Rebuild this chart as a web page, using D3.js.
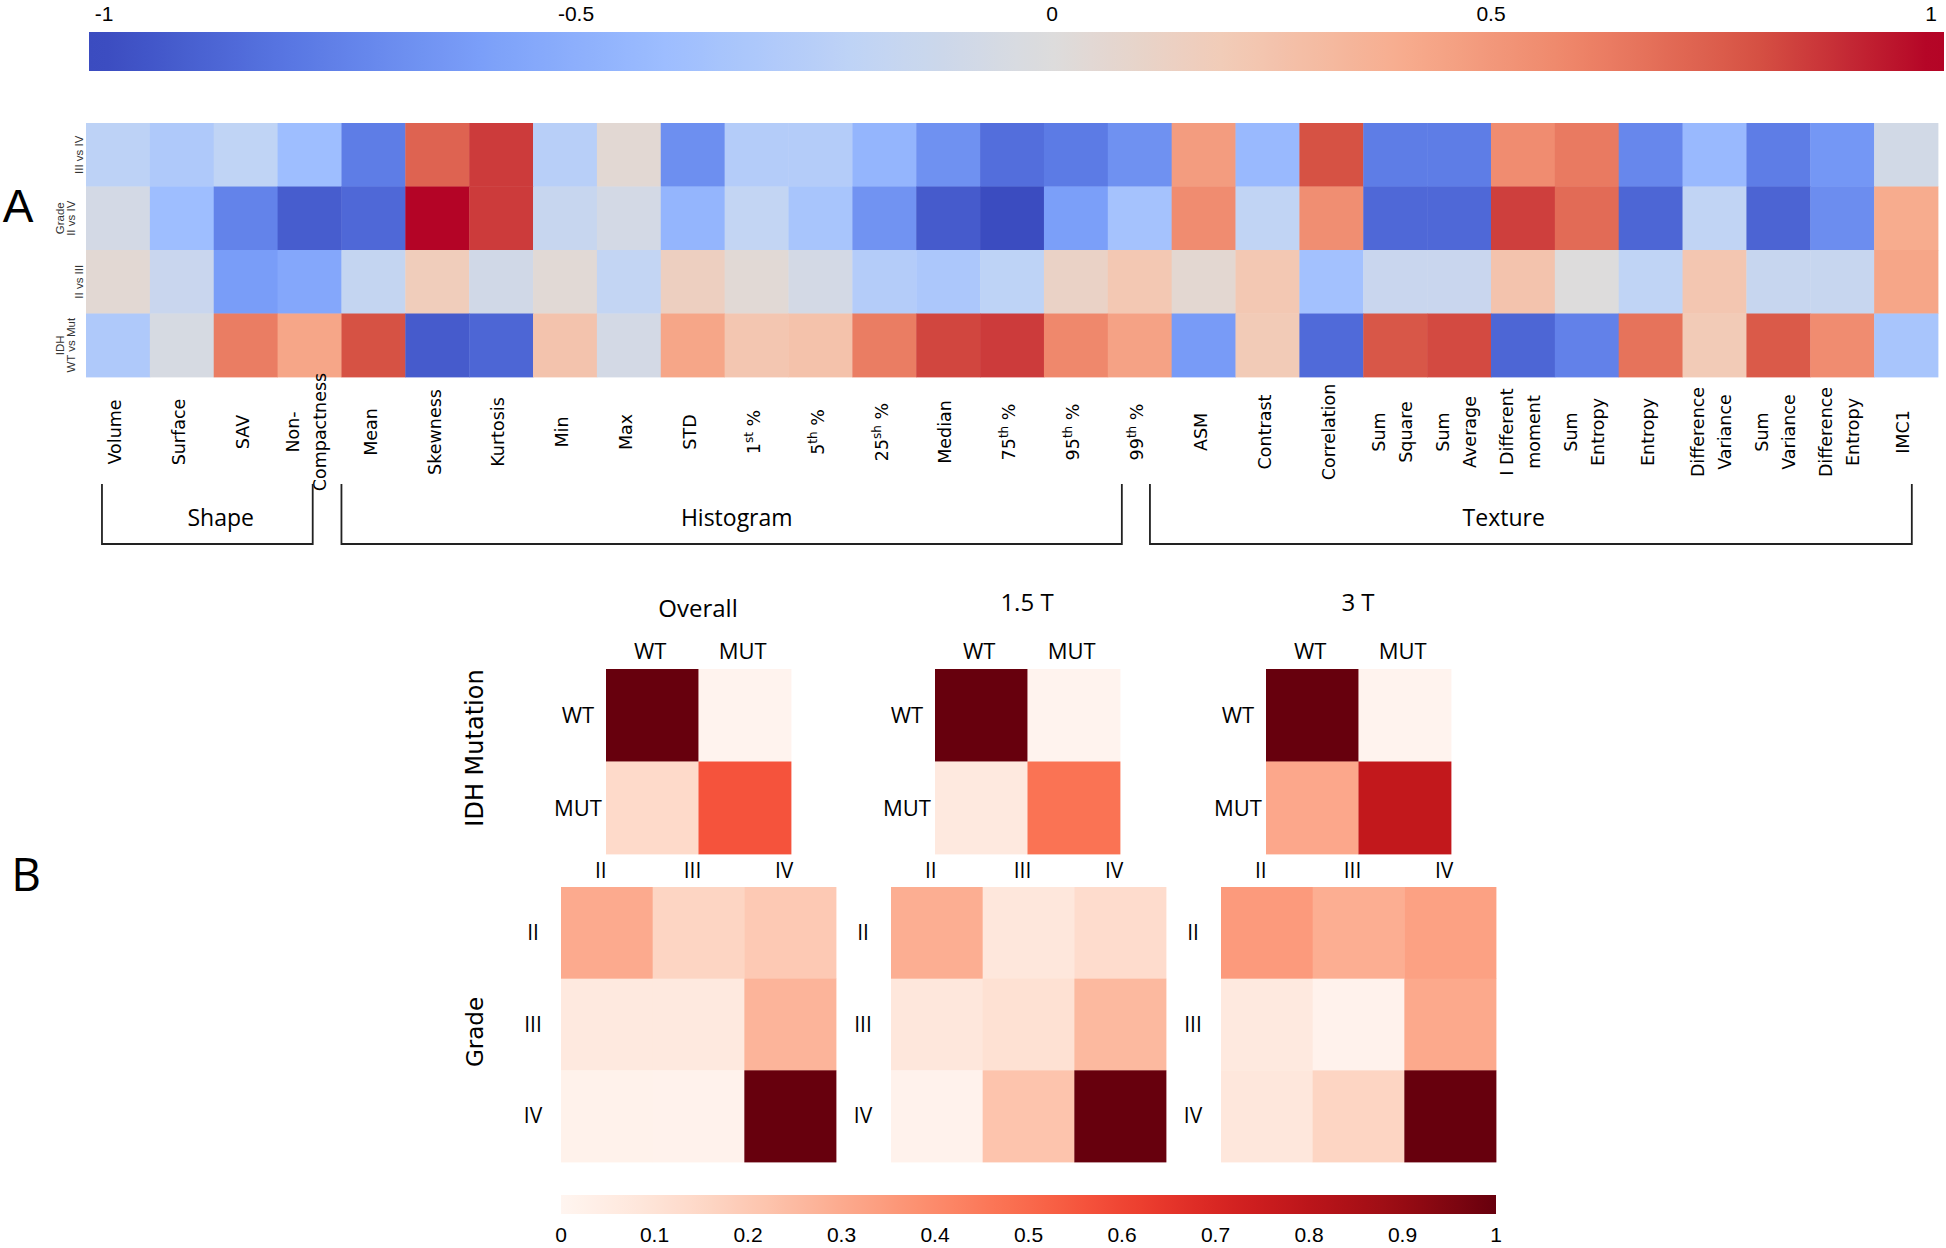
<!DOCTYPE html>
<html>
<head>
<meta charset="utf-8">
<script src="https://cdn.jsdelivr.net/npm/d3@7"></script>
<style>
  body { margin: 0; background: #fff; }
  svg { display: block; }
</style>
</head>
<body>
<div id="chart"></div>
<script>
// ---------- data (panel A) ----------
// "|" splits a label in two lines, {..} is a superscript
const features = [
  "Volume", "Surface", "SAV", "Non-|Compactness",
  "Mean", "Skewness", "Kurtosis", "Min", "Max", "STD", "1{st} %", "5{th} %", "25{sh} %",
  "Median", "75{th} %", "95{th} %", "99{th} %",
  "ASM", "Contrast", "Correlation", "Sum|Square", "Sum|Average", "I Different|moment",
  "Sum|Entropy", "Entropy", "Difference|Variance", "Sum|Variance", "Difference|Entropy", "IMC1",
]
const comparisons = ["III vs IV", "II vs IV", "II vs III", "WT vs Mut"]
const comparisonLabels = ["III vs IV", "Grade|II vs IV", "II vs III", "IDH|WT vs Mut"]
const groupNames = ["Shape", "Histogram", "Texture"]

const corrIIIvsIV = [-0.22, -0.3, -0.2, -0.4, -0.77, 0.73, 0.86, -0.25, 0.05, -0.68, -0.27, -0.27, -0.46,
  -0.67, -0.84, -0.78, -0.67, 0.48, -0.43, 0.8, -0.77, -0.77, 0.56, 0.64, -0.72, -0.43, -0.77, -0.64, -0.08]
const corrIIvsIV = [-0.07, -0.4, -0.74, -0.92, -0.87, 1.0, 0.86, -0.15, -0.07, -0.46, -0.18, -0.34, -0.66,
  -0.93, -1.0, -0.6, -0.36, 0.56, -0.19, 0.55, -0.87, -0.87, 0.85, 0.7, -0.88, -0.19, -0.89, -0.69, 0.4]
const corrIIvsIII = [0.05, -0.14, -0.61, -0.55, -0.17, 0.18, -0.09, 0.04, -0.18, 0.15, 0.04, -0.07, -0.27,
  -0.32, -0.21, 0.12, 0.22, 0.06, 0.22, -0.37, -0.14, -0.14, 0.25, 0.0, -0.2, 0.23, -0.15, -0.15, 0.43]
const corrWTvsMut = [-0.3, -0.05, 0.63, 0.43, 0.8, -0.93, -0.88, 0.25, -0.07, 0.43, 0.23, 0.26, 0.63,
  0.83, 0.86, 0.58, 0.45, -0.62, 0.2, -0.86, 0.78, 0.82, -0.88, -0.75, 0.67, 0.2, 0.77, 0.56, -0.34]
const topTicks = [-1, -0.5, 0, 0.5, 1]

// ---------- data (panel B) ----------
const panels = ["Overall", "1.5 T", "3 T"]
const idhClasses = ["WT", "MUT"]
const grades = ["II", "III", "IV"]
const idhOverall = [[1, 0.01], [0.14, 0.56]]
const idh15T = [[1, 0.01], [0.07, 0.47]]
const idh3T = [[1, 0.01], [0.31, 0.78]]
const gradeOverall = [[0.3, 0.16, 0.2], [0.07, 0.07, 0.27], [0.02, 0.015, 1]]
const grade15T = [[0.29, 0.08, 0.13], [0.08, 0.11, 0.255], [0.015, 0.22, 1]]
const grade3T = [[0.35, 0.29, 0.33], [0.07, 0.015, 0.305], [0.08, 0.16, 1]]
const bottomTicks = [0, 0.1, 0.2, 0.3, 0.4, 0.5, 0.6, 0.7, 0.8, 0.9, 1]

// ---------- setup ----------
const W = 1946, H = 1248
const svg = d3.select("#chart").append("svg").attr("width", W).attr("height", H)
const defs = svg.append("defs")

const SANS = "'Open Sans', 'Noto Sans', sans-serif"
const DEJAVU = "'DejaVu Sans', sans-serif"
const ARIAL = "'Liberation Sans', Arial, sans-serif"

const coolwarm = d3.piecewise(d3.interpolateRgb, [
  "#3b4cc0", "#5977e3", "#7b9ff9", "#9ebeff", "#c0d4f5", "#dddcdc",
  "#f2cbb7", "#f7ac8e", "#ee8468", "#d65244", "#b40426",
])
const cw = (v) => coolwarm((v + 1) / 2)

// writes lines of text into a (rotated) group, centred on its origin
function addLines(g, label, size, gap, supSize) {
  const lines = label.split("|")
  lines.forEach((line, i) => {
    const t = g.append("text")
      .attr("y", (i - (lines.length - 1) / 2) * gap)
      .attr("dy", "0.36em")
      .attr("text-anchor", "middle")
    let raised = false
    line.split(/(\{[^}]*\})/).filter((s) => s).forEach((seg) => {
      if (seg.startsWith("{")) {
        t.append("tspan").attr("font-size", supSize).attr("dy", -7).text(seg.slice(1, -1))
        raised = true
      } else {
        t.append("tspan").attr("dy", raised ? 7 : null).text(seg)
        raised = false
      }
    })
  })
}

// ---------- panel A: colour bar ----------
const topBar = { x0: 89, x1: 1944, y: 32, h: 39 }
const topScale = d3.scaleLinear().domain(topTicks).range([104, 576, 1052, 1491, 1931]).clamp(true)

const cwGrad = defs.append("linearGradient").attr("id", "cwGrad").attr("x1", "0%").attr("x2", "100%")
d3.range(0, 101).forEach((i) => {
  const x = topBar.x0 + (i / 100) * (topBar.x1 - topBar.x0)
  cwGrad.append("stop").attr("offset", `${i}%`).attr("stop-color", cw(topScale.invert(x)))
})
svg.append("rect")
  .attr("x", topBar.x0).attr("y", topBar.y)
  .attr("width", topBar.x1 - topBar.x0).attr("height", topBar.h)
  .attr("fill", "url(#cwGrad)")

svg.append("g")
  .selectAll("text")
  .data(topTicks)
  .enter()
  .append("text")
  .attr("x", (d) => topScale(d))
  .attr("y", 21)
  .attr("text-anchor", "middle")
  .attr("font-family", ARIAL)
  .attr("font-size", 21)
  .text((d) => String(d))

// ---------- panel A: heatmap ----------
const corrRows = [corrIIIvsIV, corrIIvsIV, corrIIvsIII, corrWTvsMut]
const xA = d3.scaleBand().domain(d3.range(features.length)).range([86, 1938])
const yA = d3.scaleBand().domain(comparisons).range([123, 377])

const cells = comparisons.flatMap((c, r) => corrRows[r].map((v, i) => ({ c, i, v })))
svg.append("g")
  .selectAll("rect")
  .data(cells)
  .enter()
  .append("rect")
  .attr("x", (d) => xA(d.i))
  .attr("y", (d) => yA(d.c))
  .attr("width", xA.bandwidth() + 0.4)
  .attr("height", yA.bandwidth() + 0.4)
  .attr("fill", (d) => cw(d.v))

// row labels (small, rotated)
comparisons.forEach((c, r) => {
  const n = comparisonLabels[r].split("|").length
  const g = svg.append("g")
    .attr("transform", `translate(${79 - (n - 1) * 14}, ${yA(c) + yA.bandwidth() / 2}) rotate(-90)`)
    .attr("font-family", ARIAL)
    .attr("font-size", 11.5)
    .attr("fill", "#333")
  addLines(g, comparisonLabels[r], 11.5, 11, 9)
})

// column labels
features.forEach((f, i) => {
  const g = svg.append("g")
    .attr("transform", `translate(${xA(i) + xA.bandwidth() / 2 - 3}, 432) rotate(-90)`)
    .attr("font-family", DEJAVU)
    .attr("font-size", 17.5)
  addLines(g, f, 17.5, 27, 12)
})

// group brackets: [start, end, label] in column units
const bracketSpans = [[0.25, 3.55, 2.11], [4.0, 16.22, 10.19], [16.66, 28.59, 22.2]]
const colUnit = d3.scaleLinear().domain([0, features.length]).range(xA.range())
const bracketTop = 484, bracketBottom = 544
groupNames.forEach((name, k) => {
  const [a, b, l] = bracketSpans[k]
  svg.append("path")
    .attr("d", `M${colUnit(a)},${bracketTop}V${bracketBottom}H${colUnit(b)}V${bracketTop}`)
    .attr("fill", "none")
    .attr("stroke", "#222")
    .attr("stroke-width", 1.8)
  svg.append("text")
    .attr("x", colUnit(l))
    .attr("y", 526)
    .attr("text-anchor", "middle")
    .attr("font-family", SANS)
    .attr("font-size", 23)
    .text(name)
})

svg.append("text")
  .attr("x", 18).attr("y", 222)
  .attr("text-anchor", "middle")
  .attr("font-family", ARIAL)
  .attr("font-size", 46)
  .text("A")

// ---------- panel B ----------
svg.append("text")
  .attr("x", 26).attr("y", 891)
  .attr("text-anchor", "middle")
  .attr("font-family", SANS)
  .attr("font-size", 46)
  .text("B")

const reds = d3.interpolateReds
const idhMatrices = [idhOverall, idh15T, idh3T]
const gradeMatrices = [gradeOverall, grade15T, grade3T]
const idhLeft = [606, 935, 1266]
const gradeLeft = [561, 891, 1221]
const titleBase = [617, 611, 611]

function matrix(x0, y0, size, classes, values, colDx, colY, rowDx, rowDy) {
  const x = d3.scaleBand().domain(classes).range([x0, x0 + size])
  const y = d3.scaleBand().domain(classes).range([y0, y0 + size])
  const data = classes.flatMap((r, ri) => classes.map((c, ci) => ({ r, c, v: values[ri][ci] })))
  const g = svg.append("g")
  g.selectAll("rect")
    .data(data)
    .enter()
    .append("rect")
    .attr("x", (d) => x(d.c))
    .attr("y", (d) => y(d.r))
    .attr("width", x.bandwidth() + 0.4)
    .attr("height", y.bandwidth() + 0.4)
    .attr("fill", (d) => reds(d.v))
  g.selectAll(".col")
    .data(classes)
    .enter()
    .append("text")
    .attr("x", (d) => x(d) + x.bandwidth() / 2 + colDx)
    .attr("y", colY)
    .attr("text-anchor", "middle")
    .text((d) => d)
  g.selectAll(".row")
    .data(classes)
    .enter()
    .append("text")
    .attr("x", x0 + rowDx)
    .attr("y", (d) => y(d) + y.bandwidth() / 2 + rowDy)
    .attr("text-anchor", "middle")
    .text((d) => d)
  return g
}

panels.forEach((p, k) => {
  const gi = matrix(idhLeft[k], 669, 185, idhClasses, idhMatrices[k], -2, 659, -28, 8)
  gi.attr("font-family", SANS).attr("font-size", 22)
  const gg = matrix(gradeLeft[k], 887, 275, grades, gradeMatrices[k], -6, 878, -28, 7)
  gg.attr("font-family", SANS).attr("font-size", 21)
  svg.append("text")
    .attr("x", idhLeft[k] + 92)
    .attr("y", titleBase[k])
    .attr("text-anchor", "middle")
    .attr("font-family", SANS)
    .attr("font-size", 24)
    .text(p)
})

svg.append("text")
  .attr("transform", "translate(474, 748) rotate(-90)")
  .attr("dy", "0.36em")
  .attr("text-anchor", "middle")
  .attr("font-family", DEJAVU)
  .attr("font-size", 24)
  .text("IDH Mutation")
svg.append("text")
  .attr("transform", "translate(475, 1032) rotate(-90)")
  .attr("dy", "0.36em")
  .attr("text-anchor", "middle")
  .attr("font-family", DEJAVU)
  .attr("font-size", 23)
  .text("Grade")

// bottom colour bar
const bottomScale = d3.scaleLinear().domain([0, 1]).range([561, 1496])
const redGrad = defs.append("linearGradient").attr("id", "redGrad").attr("x1", "0%").attr("x2", "100%")
d3.range(0, 51).forEach((i) => {
  redGrad.append("stop").attr("offset", `${i * 2}%`).attr("stop-color", reds(i / 50))
})
svg.append("rect")
  .attr("x", bottomScale(0)).attr("y", 1195)
  .attr("width", bottomScale(1) - bottomScale(0)).attr("height", 19)
  .attr("fill", "url(#redGrad)")

svg.append("g")
  .selectAll("text")
  .data(bottomTicks)
  .enter()
  .append("text")
  .attr("x", (d) => bottomScale(d))
  .attr("y", 1242)
  .attr("text-anchor", "middle")
  .attr("font-family", ARIAL)
  .attr("font-size", 21)
  .text((d) => String(d))
</script>
</body>
</html>
